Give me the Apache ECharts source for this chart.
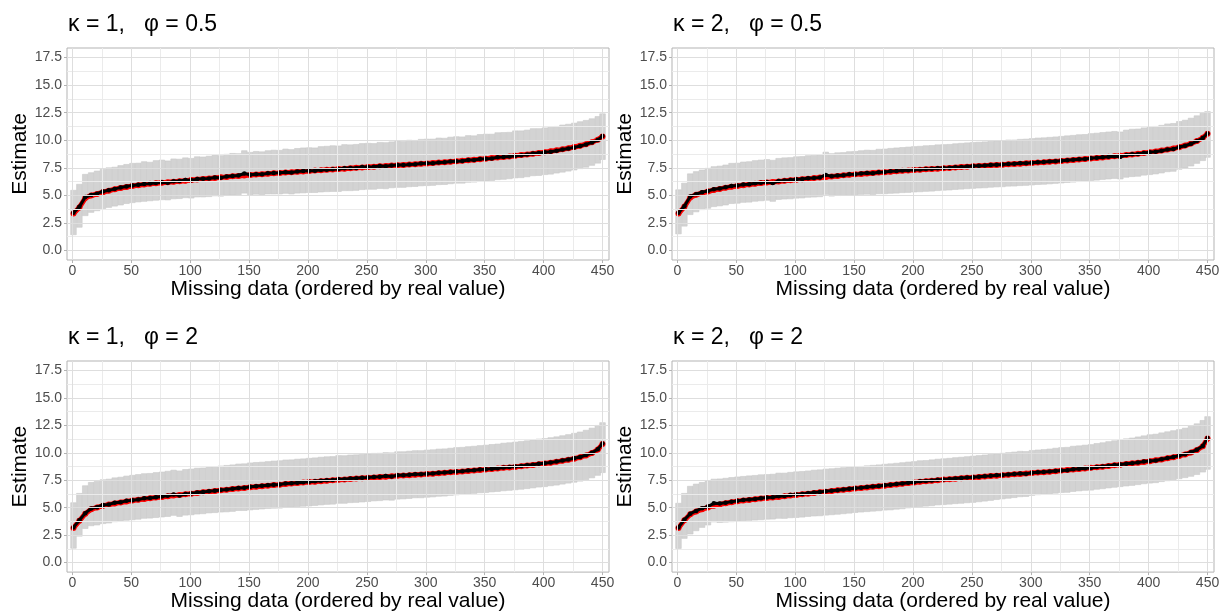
<!DOCTYPE html>
<html><head><meta charset="utf-8">
<script src="https://cdn.jsdelivr.net/npm/echarts@6/dist/echarts.min.js"></script>
<style>html,body{margin:0;padding:0;background:#fff}#c{width:1232px;height:613px}</style>
</head><body><div id="c"></div>
<script>
// ordered index of the missing observations (sampled)
const idx = [1,6,11,16,21,26,31,36,41,46,51,56,61,66,71,76,81,86,91,96,101,106,111,116,121,126,131,136,141,146,151,156,161,166,171,176,181,186,191,196,201,206,211,216,221,226,231,236,241,246,251,256,261,266,271,276,281,286,291,296,301,306,311,316,321,326,331,336,341,346,351,356,361,366,371,376,381,386,391,396,401,406,411,416,421,426,431,436,441,446,450];
const xTicks = [0,50,100,150,200,250,300,350,400,450];
const xMinor = [25,75,125,175,225,275,325,375,425];
const yTicks = [0,2.5,5,7.5,10,12.5,15,17.5];
const yMinor = [1.25,3.75,6.25,8.75,11.25,13.75,16.25];
const titles = ['κ = 1,   φ = 0.5','κ = 2,   φ = 0.5','κ = 1,   φ = 2','κ = 2,   φ = 2'];

// Panel 1: kappa=1, phi=0.5
const real1 = [3.35,3.9,4.75,4.98,5.12,5.28,5.42,5.55,5.66,5.76,
 5.85,5.92,5.98,6.04,6.09,6.14,6.19,6.23,6.28,6.33,
 6.38,6.43,6.48,6.53,6.58,6.63,6.67,6.72,6.76,6.80,
 6.84,6.88,6.92,6.96,7.00,7.03,7.07,7.10,7.14,7.17,
 7.21,7.25,7.28,7.32,7.35,7.39,7.42,7.46,7.50,7.53,
 7.57,7.60,7.63,7.66,7.70,7.73,7.76,7.79,7.83,7.86,
 7.89,7.93,7.97,8.01,8.05,8.09,8.13,8.18,8.23,8.28,
 8.33,8.38,8.43,8.48,8.53,8.59,8.65,8.71,8.78,8.85,
 8.92,9.00,9.08,9.17,9.27,9.38,9.50,9.64,9.82,10.05,
 10.35];
const est1 = [3.42,3.95,4.85,5.02,5.15,5.35,5.45,5.58,5.70,5.80,
 5.90,5.95,6.02,6.06,6.12,6.18,6.15,6.27,6.30,6.38,
 6.36,6.47,6.50,6.52,6.62,6.60,6.70,6.75,6.80,6.98,
 6.86,6.92,6.90,7.00,7.02,7.05,7.10,7.08,7.16,7.20,
 7.22,7.24,7.30,7.33,7.36,7.38,7.45,7.47,7.48,7.56,
 7.58,7.59,7.65,7.64,7.70,7.75,7.74,7.80,7.82,7.88,
 7.90,7.92,7.98,8.00,8.07,8.10,8.12,8.20,8.21,8.30,
 8.32,8.35,8.45,8.47,8.52,8.60,8.63,8.70,8.80,8.83,
 8.90,8.95,9.05,9.15,9.25,9.35,9.48,9.62,9.80,10.02,
 10.38];
const hi1 = [5.45,6.0,6.9,7.05,7.2,7.35,7.5,7.55,7.7,7.8,
 7.9,7.92,8.05,8.0,8.15,8.2,8.12,8.3,8.28,8.4,
 8.35,8.5,8.48,8.55,8.65,8.6,8.72,8.8,8.78,9.05,
 8.9,8.98,8.95,9.05,9.1,9.08,9.2,9.15,9.25,9.3,
 9.32,9.3,9.42,9.45,9.5,9.48,9.6,9.58,9.62,9.7,
 9.72,9.7,9.8,9.78,9.85,9.92,9.88,10.0,9.98,10.08,
 10.1,10.1,10.2,10.18,10.28,10.32,10.3,10.42,10.4,10.52,
 10.55,10.55,10.68,10.7,10.72,10.85,10.85,10.92,11.05,11.05,
 11.12,11.18,11.25,11.38,11.45,11.55,11.68,11.8,11.95,12.15,
 12.4];
const lo1 = [1.42,2.1,3.15,3.45,3.6,3.78,3.9,4.02,4.12,4.25,
 4.33,4.4,4.45,4.5,4.55,4.6,4.58,4.68,4.7,4.78,
 4.75,4.85,4.85,4.88,4.95,4.92,5.0,5.02,5.05,5.2,
 5.05,5.1,5.05,5.12,5.12,5.12,5.18,5.12,5.2,5.22,
 5.25,5.25,5.3,5.33,5.35,5.35,5.42,5.42,5.45,5.52,
 5.55,5.55,5.62,5.6,5.68,5.72,5.72,5.78,5.8,5.86,
 5.88,5.9,5.97,5.98,6.05,6.1,6.1,6.18,6.2,6.28,
 6.3,6.33,6.42,6.45,6.5,6.58,6.6,6.68,6.78,6.8,
 6.88,6.92,7.02,7.1,7.2,7.3,7.42,7.55,7.72,7.92,
 8.25];

// Panel 2: kappa=2, phi=0.5
const real2 = [3.35,3.95,4.8,5.05,5.2,5.35,5.47,5.58,5.68,5.77,
 5.85,5.92,5.99,6.05,6.11,6.16,6.21,6.26,6.31,6.36,
 6.41,6.46,6.51,6.56,6.61,6.66,6.71,6.76,6.81,6.86,
 6.90,6.94,6.98,7.02,7.06,7.10,7.14,7.18,7.22,7.26,
 7.30,7.33,7.36,7.39,7.42,7.45,7.49,7.52,7.56,7.60,
 7.63,7.66,7.69,7.72,7.75,7.78,7.81,7.84,7.87,7.90,
 7.94,7.97,8.00,8.04,8.08,8.12,8.16,8.20,8.25,8.29,
 8.34,8.39,8.44,8.49,8.54,8.59,8.65,8.71,8.77,8.83,
 8.90,8.98,9.06,9.15,9.25,9.37,9.52,9.70,9.92,10.22,
 10.6];
const est2 = [3.42,4.0,4.9,5.1,5.28,5.4,5.55,5.62,5.72,5.85,
 5.88,5.98,6.0,6.1,6.15,6.2,6.12,6.3,6.35,6.38,
 6.45,6.48,6.55,6.58,6.62,6.85,6.72,6.8,6.82,6.9,
 6.92,6.98,7.02,7.0,7.1,7.12,7.18,7.2,7.25,7.28,
 7.32,7.35,7.38,7.4,7.45,7.48,7.5,7.55,7.58,7.62,
 7.65,7.68,7.7,7.75,7.78,7.8,7.85,7.86,7.9,7.92,
 7.96,8.0,8.02,8.06,8.1,8.14,8.18,8.22,8.27,8.3,
 8.36,8.4,8.46,8.5,8.55,8.5,8.66,8.72,8.75,8.85,
 8.9,8.96,9.05,9.16,9.2,9.38,9.5,9.68,9.92,10.2,
 10.62];
const hi2 = [5.5,6.1,6.95,7.15,7.3,7.45,7.6,7.65,7.75,7.9,
 7.92,8.02,8.05,8.15,8.2,8.25,8.18,8.35,8.4,8.42,
 8.5,8.52,8.6,8.62,8.68,8.92,8.78,8.86,8.88,8.96,
 8.98,9.05,9.1,9.08,9.18,9.2,9.26,9.3,9.34,9.38,
 9.42,9.45,9.5,9.52,9.58,9.6,9.62,9.68,9.72,9.76,
 9.8,9.82,9.85,9.9,9.95,9.96,10.02,10.02,10.08,10.1,
 10.15,10.2,10.22,10.26,10.3,10.35,10.4,10.44,10.5,10.52,
 10.6,10.64,10.7,10.75,10.8,10.75,10.92,11.0,11.02,11.12,
 11.18,11.25,11.35,11.48,11.52,11.7,11.82,12.0,12.22,12.45,
 12.6];
const lo2 = [1.5,2.2,3.25,3.5,3.7,3.82,3.97,4.04,4.12,4.25,
 4.28,4.36,4.38,4.46,4.5,4.55,4.45,4.62,4.66,4.68,
 4.74,4.76,4.82,4.84,4.87,5.08,4.93,4.98,4.98,5.04,
 5.04,5.08,5.1,5.06,5.14,5.14,5.18,5.2,5.24,5.26,
 5.3,5.32,5.36,5.38,5.43,5.46,5.48,5.53,5.56,5.6,
 5.63,5.66,5.68,5.73,5.76,5.78,5.83,5.84,5.88,5.9,
 5.94,5.98,6.0,6.04,6.08,6.12,6.16,6.2,6.25,6.28,
 6.34,6.38,6.44,6.48,6.53,6.48,6.64,6.7,6.73,6.83,
 6.88,6.94,7.03,7.14,7.18,7.36,7.48,7.66,7.9,8.15,
 8.45];

// Panel 3: kappa=1, phi=2
const real3 = [3.15,3.8,4.45,4.85,5.02,5.17,5.28,5.38,5.48,5.57,
 5.65,5.72,5.79,5.86,5.92,5.98,6.04,6.1,6.16,6.22,
 6.28,6.34,6.4,6.46,6.52,6.58,6.64,6.7,6.75,6.8,
 6.86,6.91,6.96,7.01,7.06,7.1,7.15,7.2,7.24,7.29,
 7.33,7.37,7.42,7.46,7.51,7.55,7.58,7.62,7.65,7.69,
 7.72,7.76,7.79,7.83,7.86,7.9,7.93,7.96,8.0,8.03,
 8.06,8.1,8.14,8.18,8.22,8.26,8.3,8.35,8.39,8.44,
 8.48,8.53,8.58,8.63,8.67,8.72,8.78,8.84,8.9,8.96,
 9.02,9.1,9.18,9.27,9.37,9.47,9.6,9.76,9.98,10.3,
 10.8];
const est3 = [3.2,3.85,4.5,4.92,5.05,5.25,5.3,5.45,5.5,5.62,
 5.68,5.75,5.85,5.88,5.95,6.02,6.08,6.2,6.12,6.25,
 6.3,6.38,6.42,6.5,6.55,6.62,6.66,6.72,6.8,6.82,
 6.9,6.95,7.0,7.05,7.1,7.12,7.2,7.22,7.28,7.32,
 7.36,7.4,7.45,7.5,7.52,7.6,7.6,7.66,7.68,7.72,
 7.75,7.8,7.82,7.88,7.85,7.95,7.96,8.0,8.05,8.05,
 8.1,8.12,8.18,8.2,8.25,8.3,8.32,8.38,8.42,8.48,
 8.5,8.56,8.6,8.66,8.7,8.75,8.8,8.86,8.92,9.0,
 9.05,9.12,9.2,9.3,9.4,9.5,9.62,9.8,10.0,10.32,
 10.85];
const hi3 = [5.45,6.3,7.0,7.3,7.4,7.55,7.6,7.72,7.78,7.88,
 7.95,8.02,8.1,8.12,8.2,8.25,8.32,8.42,8.35,8.48,
 8.52,8.6,8.62,8.7,8.75,8.8,8.85,8.9,8.98,9.0,
 9.08,9.12,9.15,9.2,9.25,9.28,9.35,9.36,9.42,9.45,
 9.5,9.54,9.6,9.64,9.66,9.75,9.74,9.8,9.82,9.86,
 9.9,9.95,9.96,10.02,10.0,10.1,10.1,10.15,10.2,10.2,
 10.25,10.28,10.34,10.36,10.42,10.48,10.5,10.56,10.6,10.66,
 10.7,10.76,10.8,10.88,10.92,10.98,11.04,11.1,11.18,11.26,
 11.3,11.38,11.46,11.56,11.66,11.78,11.9,12.06,12.25,12.5,
 12.75];
const lo3 = [1.3,2.4,3.1,3.35,3.42,3.55,3.6,3.72,3.75,3.85,
 3.9,3.95,4.03,4.05,4.1,4.15,4.2,4.3,4.2,4.32,
 4.35,4.42,4.45,4.52,4.55,4.6,4.62,4.66,4.74,4.74,
 4.8,4.84,4.88,4.92,4.95,4.96,5.03,5.04,5.1,5.13,
 5.16,5.2,5.25,5.3,5.32,5.4,5.4,5.46,5.48,5.52,
 5.56,5.62,5.64,5.7,5.68,5.78,5.8,5.84,5.9,5.9,
 5.95,5.98,6.04,6.06,6.12,6.17,6.2,6.26,6.3,6.36,
 6.38,6.44,6.48,6.54,6.58,6.63,6.68,6.74,6.8,6.88,
 6.92,7.0,7.06,7.15,7.24,7.32,7.42,7.55,7.72,7.95,
 8.2];

// Panel 4: kappa=2, phi=2
const real4 = [3.15,3.85,4.4,4.65,4.85,5.02,5.18,5.3,5.4,5.5,
 5.58,5.65,5.71,5.77,5.83,5.88,5.93,5.98,6.04,6.1,
 6.16,6.22,6.28,6.34,6.4,6.46,6.52,6.58,6.63,6.69,
 6.75,6.8,6.85,6.9,6.95,7.0,7.06,7.12,7.18,7.24,
 7.3,7.36,7.41,7.46,7.51,7.56,7.6,7.64,7.68,7.72,
 7.76,7.8,7.84,7.88,7.92,7.96,8.0,8.04,8.08,8.12,
 8.16,8.2,8.24,8.28,8.33,8.38,8.43,8.48,8.53,8.58,
 8.63,8.68,8.74,8.8,8.86,8.92,8.98,9.04,9.1,9.17,
 9.24,9.32,9.4,9.5,9.6,9.72,9.86,10.02,10.25,10.6,
 11.3];
const est4 = [3.2,3.9,4.45,4.7,4.95,5.1,5.4,5.38,5.45,5.55,
 5.62,5.7,5.75,5.8,5.86,5.92,5.95,6.05,6.06,6.15,
 6.2,6.25,6.32,6.38,6.42,6.5,6.55,6.6,6.66,6.72,
 6.78,6.82,6.88,6.93,6.98,7.05,7.08,7.15,7.2,7.28,
 7.32,7.4,7.44,7.48,7.55,7.58,7.62,7.67,7.7,7.75,
 7.78,7.82,7.86,7.9,7.95,7.98,8.02,8.06,8.12,8.1,
 8.18,8.22,8.26,8.3,8.35,8.4,8.42,8.5,8.55,8.6,
 8.62,8.7,8.75,8.82,8.88,8.94,9.0,9.05,9.12,9.2,
 9.26,9.3,9.42,9.52,9.62,9.75,9.88,10.05,10.28,10.62,
 11.35];
const hi4 = [5.4,6.3,6.95,7.15,7.3,7.45,7.6,7.62,7.68,7.75,
 7.8,7.85,7.9,7.94,8.0,8.02,8.05,8.15,8.15,8.22,
 8.27,8.3,8.35,8.42,8.45,8.52,8.55,8.6,8.65,8.7,
 8.73,8.76,8.82,8.86,8.9,8.96,9.0,9.05,9.1,9.16,
 9.2,9.28,9.3,9.36,9.42,9.46,9.5,9.56,9.6,9.65,
 9.7,9.75,9.8,9.86,9.92,9.96,10.02,10.07,10.14,10.12,
 10.22,10.26,10.3,10.35,10.42,10.48,10.5,10.6,10.64,10.7,
 10.75,10.85,10.92,11.02,11.1,11.2,11.28,11.35,11.45,11.55,
 11.65,11.7,11.82,11.92,12.02,12.12,12.25,12.42,12.65,12.95,
 13.3];
const lo4 = [1.28,2.2,2.6,2.9,3.2,3.42,3.7,3.65,3.68,3.72,
 3.76,3.82,3.84,3.87,3.9,3.95,3.96,4.03,4.02,4.08,
 4.1,4.14,4.2,4.24,4.26,4.32,4.36,4.4,4.45,4.5,
 4.56,4.6,4.64,4.68,4.72,4.78,4.8,4.86,4.9,4.98,
 5.02,5.1,5.14,5.18,5.25,5.28,5.32,5.37,5.4,5.45,
 5.48,5.54,5.6,5.66,5.74,5.8,5.86,5.92,6.0,6.02,
 6.12,6.18,6.22,6.26,6.32,6.38,6.4,6.48,6.53,6.58,
 6.6,6.68,6.73,6.8,6.86,6.92,6.98,7.03,7.1,7.18,
 7.24,7.28,7.38,7.46,7.54,7.64,7.74,7.86,8.02,8.25,
 8.5];

const FONT = '"Liberation Sans", Arial, Helvetica, sans-serif';
const panels = [
  {real: real1, est: est1, lo: lo1, hi: hi1, left: 67, top: 48},
  {real: real2, est: est2, lo: lo2, hi: hi2, left: 672, top: 48},
  {real: real3, est: est3, lo: lo3, hi: hi3, left: 67, top: 361},
  {real: real4, est: est4, lo: lo4, hi: hi4, left: 672, top: 361}
];
const W = 542, H = 212;

const majorStyle = {color: '#DEDEDE', width: 1, type: 'solid'};
const minorStyle = {color: '#EBEBEB', width: 1, type: 'solid'};

function gridLines() {
  const d = [];
  xMinor.forEach(v => d.push({xAxis: v, lineStyle: minorStyle}));
  yMinor.forEach(v => d.push({yAxis: v, lineStyle: minorStyle}));
  xTicks.forEach(v => d.push({xAxis: v, lineStyle: majorStyle}));
  yTicks.forEach(v => d.push({yAxis: v, lineStyle: majorStyle}));
  return d;
}

function renderBar(params, api) {
  const x = api.value(0), lo = api.value(1), hi = api.value(2);
  const p1 = api.coord([x, hi]);
  const p2 = api.coord([x, lo]);
  const w = api.size([5, 0])[0] * 0.95;
  return {
    type: 'rect',
    shape: {x: p1[0] - w / 2, y: p1[1], width: w, height: p2[1] - p1[1]},
    style: {fill: '#D3D3D3', stroke: '#CACACA', lineWidth: 0.6}
  };
}

const option = {
  animation: false,
  backgroundColor: '#FFFFFF',
  textStyle: {fontFamily: FONT},
  title: panels.map((p, i) => ({
    text: titles[i], left: p.left + 1, top: p.top - 35, padding: 0,
    textStyle: {fontSize: 23, fontWeight: 'normal', color: '#000000', fontFamily: FONT}
  })),
  grid: panels.map(p => ({
    left: p.left, top: p.top, width: W, height: H, show: true,
    borderColor: '#B3B3B3', borderWidth: 1, backgroundColor: 'transparent'
  })),
  xAxis: panels.map((p, i) => ({
    gridIndex: i, type: 'value', min: -4.5, max: 455.5,
    axisLine: {show: false, onZero: false},
    axisTick: {show: true, length: 3, lineStyle: {color: '#B3B3B3'}, customValues: xTicks},
    axisLabel: {customValues: xTicks, color: '#4D4D4D', fontSize: 14, fontFamily: FONT, margin: 4},
    splitLine: {show: false},
    name: 'Missing data (ordered by real value)', nameLocation: 'middle', nameGap: 15,
    nameTextStyle: {fontSize: 21, color: '#000000', fontFamily: FONT}
  })),
  yAxis: panels.map((p, i) => ({
    gridIndex: i, type: 'value', min: -0.875, max: 18.375,
    axisLine: {show: false, onZero: false},
    axisTick: {show: true, length: 3, lineStyle: {color: '#B3B3B3'}, customValues: yTicks},
    axisLabel: {customValues: yTicks, formatter: v => v.toFixed(1), color: '#4D4D4D', fontSize: 14, fontFamily: FONT, margin: 5},
    splitLine: {show: false},
    name: 'Estimate', nameLocation: 'middle', nameGap: 27,
    nameTextStyle: {fontSize: 21, color: '#000000', fontFamily: FONT}
  })),
  series: []
};

panels.forEach((p, i) => {
  option.series.push({
    type: 'line', xAxisIndex: i, yAxisIndex: i, data: [], silent: true, z: 1,
    markLine: {silent: true, symbol: ['none', 'none'], label: {show: false}, animation: false, data: gridLines()}
  });
  option.series.push({
    type: 'custom', xAxisIndex: i, yAxisIndex: i, renderItem: renderBar, silent: true, z: 2,
    encode: {x: 0, y: [1, 2]},
    data: idx.map((x, j) => [x, p.lo[j], p.hi[j]])
  });
  option.series.push({
    type: 'line', xAxisIndex: i, yAxisIndex: i, silent: true, z: 3,
    data: idx.map((x, j) => [x, p.real[j]]),
    symbol: 'circle', symbolSize: 6, showSymbol: true,
    lineStyle: {color: '#FF0000', width: 5}, itemStyle: {color: '#FF0000'}
  });
  option.series.push({
    type: 'line', xAxisIndex: i, yAxisIndex: i, silent: true, z: 4,
    data: idx.map((x, j) => [x, p.est[j]]),
    symbol: 'circle', symbolSize: 4.5, showSymbol: true,
    lineStyle: {color: '#000000', width: 3}, itemStyle: {color: '#000000'}
  });
});

const chart = echarts.init(document.getElementById('c'), null, {renderer: 'canvas', width: 1232, height: 613});
chart.setOption(option);
</script>
</body></html>
